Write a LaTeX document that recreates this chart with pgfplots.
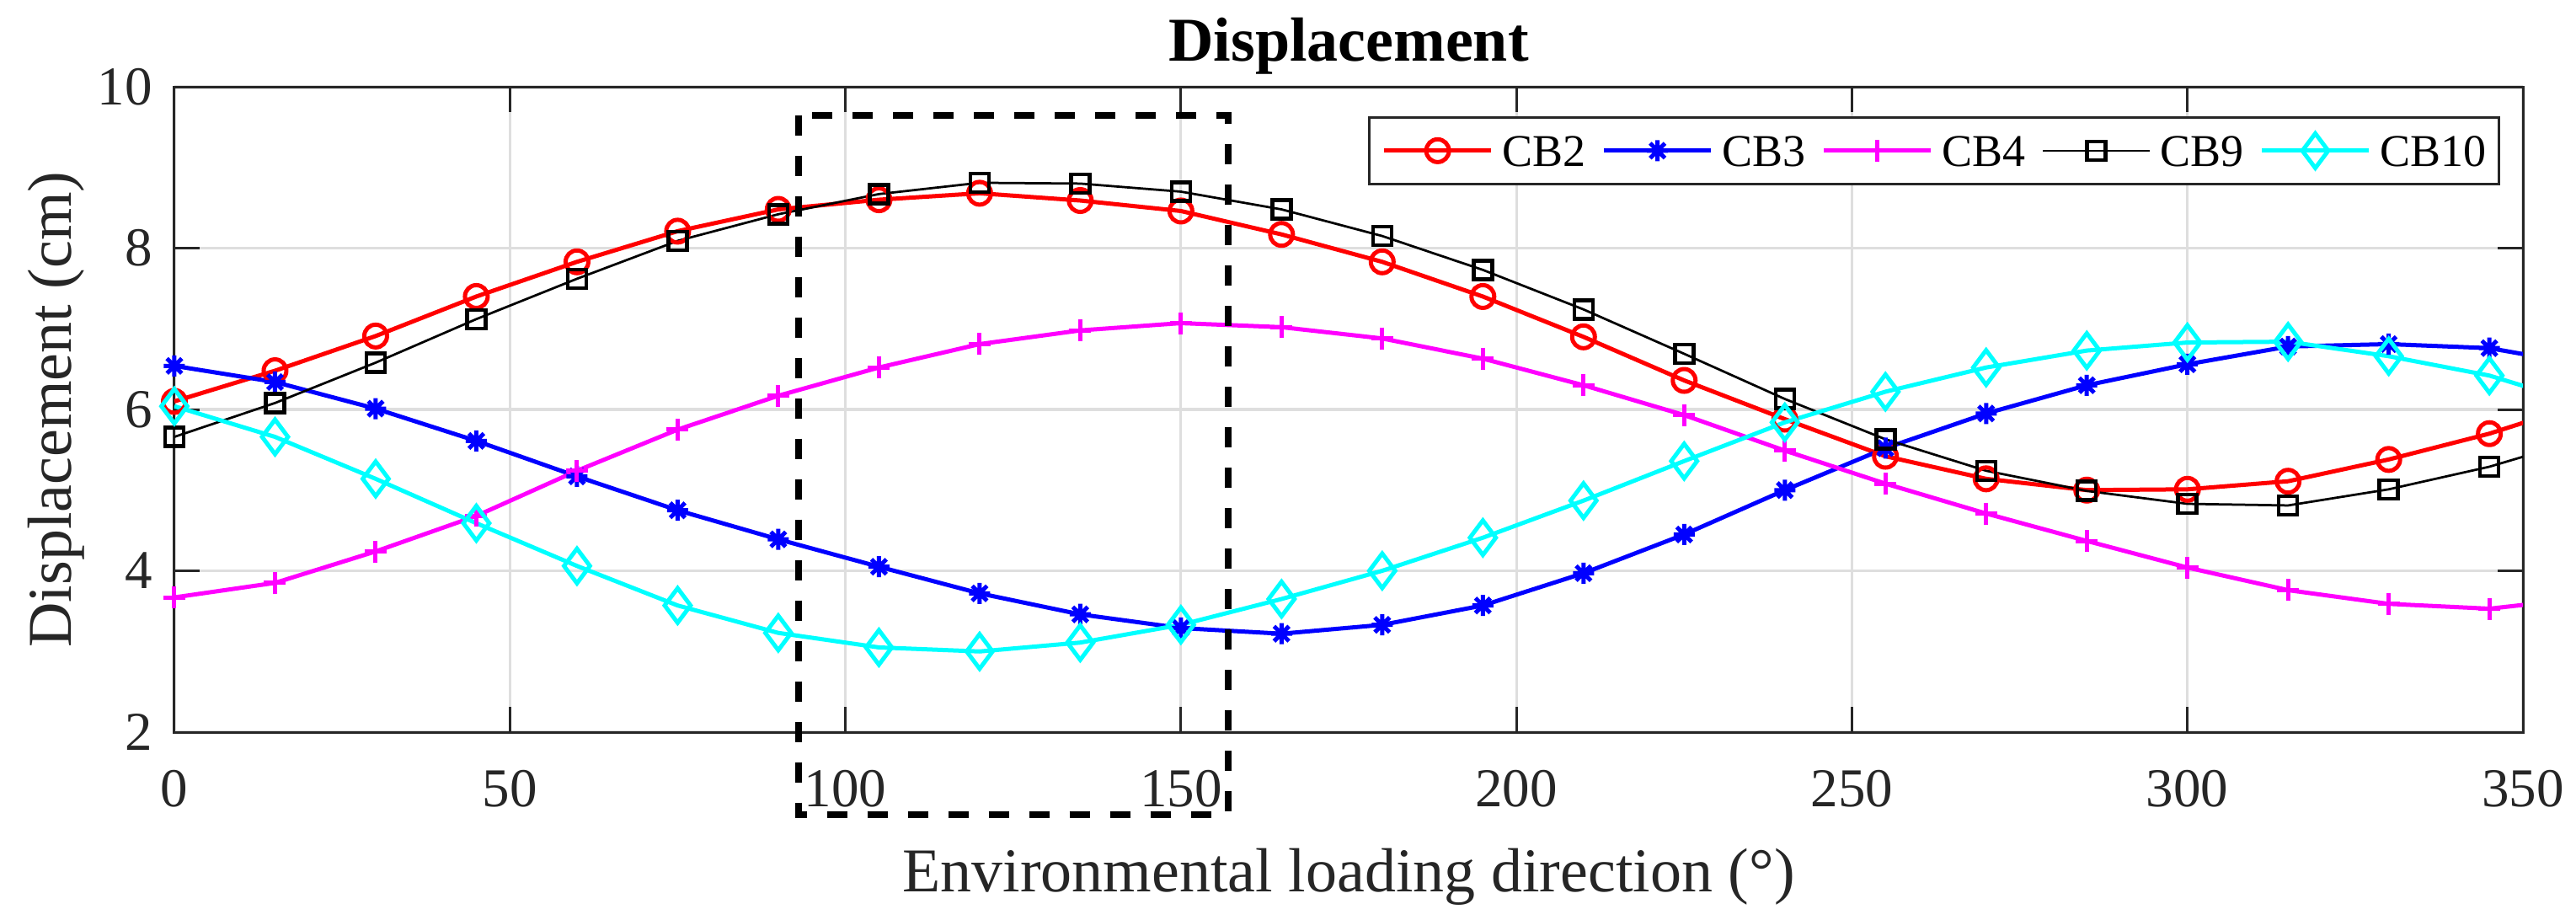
\documentclass[border=0pt]{standalone}
\usepackage{fontspec}
\setmainfont{Liberation Serif}
\usepackage{pgfplots}
\usepackage{pgfplotstable}
\pgfplotsset{compat=1.18}
\usetikzlibrary{plotmarks}

\definecolor{axgray}{RGB}{38,38,38}
\definecolor{gridgray}{RGB}{222,222,222}
\definecolor{mred}{RGB}{255,0,0}
\definecolor{mblue}{RGB}{0,0,255}
\definecolor{mmagenta}{RGB}{255,0,255}
\definecolor{mcyan}{RGB}{0,255,255}

% matlab style '*' : a plus and a cross on top of each other
\pgfdeclareplotmark{mast}{%
  \pgfpathmoveto{\pgfqpoint{0pt}{\pgfplotmarksize}}\pgfpathlineto{\pgfqpoint{0pt}{-\pgfplotmarksize}}%
  \pgfpathmoveto{\pgfqpoint{\pgfplotmarksize}{0pt}}\pgfpathlineto{\pgfqpoint{-\pgfplotmarksize}{0pt}}%
  \pgfpathmoveto{\pgfqpoint{.707\pgfplotmarksize}{.707\pgfplotmarksize}}\pgfpathlineto{\pgfqpoint{-.707\pgfplotmarksize}{-.707\pgfplotmarksize}}%
  \pgfpathmoveto{\pgfqpoint{-.707\pgfplotmarksize}{.707\pgfplotmarksize}}\pgfpathlineto{\pgfqpoint{.707\pgfplotmarksize}{-.707\pgfplotmarksize}}%
  \pgfusepathqstroke}

% displacement (cm) against loading direction (deg)
\pgfplotstableread{
dir  CB2  CB3  CB4  CB9  CB10
0    6.10 6.54 3.67 5.66 6.04
15   6.48 6.34 3.85 6.08 5.66
30   6.91 6.01 4.24 6.58 5.14
45   7.40 5.61 4.68 7.12 4.59
60   7.83 5.17 5.24 7.62 4.06
75   8.21 4.75 5.75 8.09 3.57
90   8.48 4.39 6.17 8.42 3.23
105  8.60 4.05 6.52 8.67 3.05
120  8.68 3.72 6.81 8.81 3.00
135  8.59 3.46 6.98 8.80 3.11
150  8.46 3.29 7.07 8.70 3.33
165  8.17 3.22 7.02 8.48 3.65
180  7.83 3.33 6.88 8.15 4.00
195  7.40 3.57 6.63 7.73 4.41
210  6.90 3.97 6.30 7.24 4.87
225  6.36 4.45 5.93 6.69 5.36
240  5.88 5.00 5.49 6.13 5.84
255  5.42 5.52 5.08 5.63 6.22
270  5.14 5.95 4.71 5.24 6.52
285  5.00 6.30 4.37 4.99 6.73
300  5.01 6.56 4.04 4.83 6.83
315  5.11 6.78 3.76 4.81 6.84
330  5.38 6.81 3.59 5.01 6.66
345  5.70 6.76 3.53 5.29 6.42
360  6.10 6.54 3.67 5.66 6.04
}\disp

\begin{document}
\begin{tikzpicture}
\begin{axis}[
  scale only axis,
  width=557.6bp, height=153.2bp,
  xmin=0, xmax=350, ymin=2, ymax=10,
  xtick={0,50,...,350}, ytick={2,4,...,10},
  tick align=inside, tick pos=both,
  major tick length=6bp,
  grid=major,
  major grid style={line width=0.65bp, draw=gridgray},
  axis line style={line width=0.6bp, draw=axgray},
  every tick/.style={line width=0.6bp, draw=axgray},
  /pgf/number format/assume math mode=true,
  tick label style={font=\fontsize{13bp}{15bp}\selectfont, text=axgray},
  xticklabel style={anchor=base, yshift=-17.6bp},
  yticklabel style={anchor=east, inner sep=0pt, xshift=-5bp},
  every axis title shift=0pt,
  title={Displacement},
  title style={font=\fontsize{14.8bp}{17bp}\selectfont\bfseries,
    at={(axis description cs:0.5,1.0392)}, anchor=base},
  xlabel={Environmental loading direction (°)},
  ylabel={Displacement (cm)},
  label style={font=\fontsize{14.8bp}{17bp}\selectfont, text=axgray},
  xlabel style={at={(axis description cs:0.5,-0.248)}, anchor=base},
  ylabel style={at={(axis description cs:-0.04376,0.5)}, anchor=base},
  legend columns=5,
  legend style={at={(axis description cs:0.9903,0.9543)}, anchor=north east,
    draw=axgray, line width=0.55bp, fill=white,
    inner xsep=3bp, inner ysep=3.8bp,
    font=\fontsize{10.8bp}{12bp}\selectfont,
    nodes={inner sep=0pt, text height=7.3bp, text depth=0bp},
    column sep=2.2bp,
    /tikz/every even column/.append style={column sep=3.8bp}},
  legend image code/.code={\draw[#1, mark indices={2}]
    plot coordinates {(0bp,0bp) (12.7bp,0bp) (25.4bp,0bp)};},
]
\addplot[mred, line width=1bp, mark=o, mark size=2.7bp,
  mark options={solid, line width=1bp}, mark indices={1,...,24}]
  table[x=dir, y=CB2] {\disp};
\addlegendentry{CB2}
\addplot[mblue, line width=1bp, mark=mast, mark size=2.5bp,
  mark options={solid, line width=1bp}, mark indices={1,...,24}]
  table[x=dir, y=CB3] {\disp};
\addlegendentry{CB3}
\addplot[mmagenta, line width=1bp, mark=+, mark size=2.6bp,
  mark options={solid, line width=1bp}, mark indices={1,...,24}]
  table[x=dir, y=CB4] {\disp};
\addlegendentry{CB4}
\addplot[black, line width=0.55bp, mark=square, mark size=2.2bp,
  mark options={solid, line width=0.9bp}, mark indices={1,...,24}]
  table[x=dir, y=CB9] {\disp};
\addlegendentry{CB9}
\addplot[mcyan, line width=1bp, mark=diamond, mark size=4.1bp,
  mark options={solid, line width=1bp}, mark indices={1,...,24}]
  table[x=dir, y=CB10] {\disp};
\addlegendentry{CB10}

\coordinate (O) at (rel axis cs:0,0);
\coordinate (r1) at (axis cs:93,9.65);
\coordinate (r2) at (axis cs:157,0.98);
\end{axis}
\draw[black, line width=1.6bp, dash pattern=on 4.8bp off 4.8bp] (r1) rectangle (r2);
\pgfresetboundingbox
\path[use as bounding box] ([shift={(-41.4bp,-44.6bp)}]O) rectangle ([shift={(570.2bp,173.8bp)}]O);
\end{tikzpicture}
\end{document}
